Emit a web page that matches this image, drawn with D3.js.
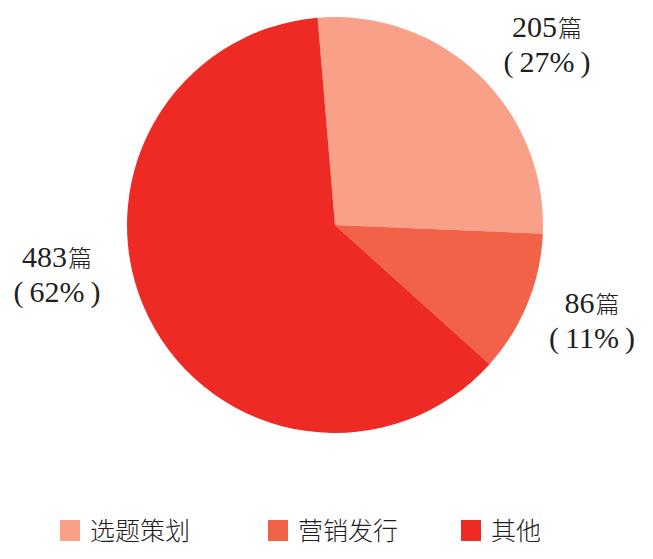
<!DOCTYPE html>
<html><head><meta charset="utf-8">
<script src="https://cdn.jsdelivr.net/npm/d3@7"></script>
<style>html,body{margin:0;padding:0;background:#fff;}</style>
</head><body>
<svg id="c" width="653" height="559"></svg>
<script>
const categories = ["选题策划", "营销发行", "其他"];
const counts = [205, 86, 483];
const percents = [27, 11, 62];
const colors = ["#F8A188", "#F26249", "#EE2A24"];

const SERIF = "Liberation Serif, Times New Roman, Times, serif";
const CJK = "Noto Sans CJK SC, sans-serif";

const svg = d3.select("#c");
const cx = 335, cy = 225, R = 208;
const startOffset = -0.084;
const pie = d3.pie().sort(null).value(d => d)
  .startAngle(startOffset).endAngle(startOffset + 2 * Math.PI);
const arcs = pie(percents);
const arc = d3.arc().innerRadius(0).outerRadius(R);

const g = svg.append("g").attr("transform", `translate(${cx},${cy})`);
g.selectAll("path").data(arcs).enter().append("path")
  .attr("d", arc).attr("fill", (d, i) => colors[i]);

// labels
const labelPos = [[547, 37], [592, 313], [57, 267]];
const lg = svg.append("g").attr("fill", "#231F20");
categories.forEach((c, i) => {
  const [x, y] = labelPos[i];
  const t1 = lg.append("text").attr("text-anchor", "middle").attr("x", x).attr("y", y);
  t1.append("tspan").attr("font-family", SERIF).attr("font-size", 30).text(counts[i]);
  t1.append("tspan").attr("dx", 1).attr("font-family", CJK).attr("font-weight", 300).attr("font-size", 24).text("篇");
  const t2 = lg.append("text").attr("text-anchor", "middle").attr("x", x).attr("y", y + 35)
    .attr("font-family", SERIF).attr("font-size", 30);
  t2.append("tspan").text("(");
  t2.append("tspan").attr("dx", 6).text(percents[i] + "%");
  t2.append("tspan").attr("dx", 6).text(")");
});

// legend
const legX = [60, 268, 461];
const leg = svg.append("g");
categories.forEach((c, i) => {
  leg.append("rect").attr("x", legX[i]).attr("y", 520).attr("width", 20).attr("height", 21).attr("fill", colors[i]);
  leg.append("text").attr("x", legX[i] + 30).attr("y", 540)
    .attr("font-family", CJK).attr("font-weight", 300)
    .attr("font-size", 25)
    .attr("fill", "#231F20").text(c);
});
</script>
</body></html>
